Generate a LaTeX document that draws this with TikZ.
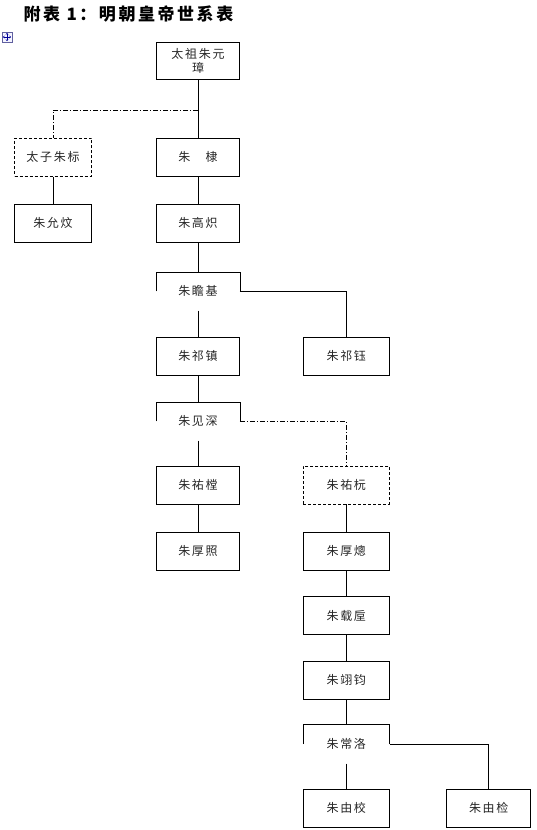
\documentclass[tikz,border=0pt]{standalone}
\usepackage{fontspec}
\newfontfamily\cjk[LetterSpace=14]{Noto Sans CJK SC}
\newfontfamily\cjktitle[LetterSpace=15]{Noto Sans CJK SC}
\usetikzlibrary{arrows.meta}

\begin{document}
\begin{tikzpicture}[x=1pt,y=-1pt,
  box/.style={draw,line width=.8pt,minimum width=83pt,minimum height=38pt,inner sep=0pt,
    align=center,font=\cjk\fontsize{12}{13.5}\selectfont,text=black!85},
  dbox/.style={box,dash pattern=on 3pt off 2pt},
  halfbox/.style={box,draw=none},
  link/.style={line width=.8pt},
  dlink/.style={link,dash pattern=on 5pt off 2pt on 1pt off 2pt}]
  \useasboundingbox (0,0) rectangle (536,830);
  %
  \node[anchor=west,font=\cjktitle\bfseries\fontsize{17}{20}\selectfont] (title) at (20,14) {附表 1：明朝皇帝世系表};
  \begin{scope}[shift={(7,37)}]
    \draw[blue!25!gray,fill=blue!4] (-5,-5) rectangle (5,5);
    \draw[blue!60!black,line width=.5pt,{Stealth[length=1.5pt,width=2.5pt]}-{Stealth[length=1.5pt,width=2.5pt]}] (-4,0) -- (4,0);
    \draw[blue!60!black,line width=.5pt,{Stealth[length=1.5pt,width=2.5pt]}-{Stealth[length=1.5pt,width=2.5pt]}] (0,-4) -- (0,4);
  \end{scope}
  %
  \node[box,minimum height=37pt] (yuanzhang) at (198,60.8) {太祖朱元\\璋};
  \node[dbox,minimum width=77pt] (biao) at (53,157.3) {太子朱标};
  \node[box] (di) at (198,157.3) {朱　棣};
  \node[box,minimum width=77pt] (yunwen) at (53,223.3) {朱允炆};
  \node[box] (gaochi) at (198,223.3) {朱高炽};
  \node[halfbox] (zhanji) at (198,291.3) {朱瞻基};
  \node[box] (qizhen) at (198,356.3) {朱祁镇};
  \node[box,minimum width=86pt] (qiyu) at (346.3,356.3) {朱祁钰};
  \node[halfbox] (jianshen) at (198,421.3) {朱见深};
  \node[box] (youtang) at (198,485) {朱祐樘};
  \node[dbox,minimum width=86pt] (youyuan) at (346.3,485) {朱祐杬};
  \node[box] (houzhao) at (198,551) {朱厚照};
  \node[box,minimum width=86pt] (houcong) at (346.3,551) {朱厚熜};
  \node[box,minimum width=86pt] (zaihou) at (346.3,615.7) {朱载垕};
  \node[box,minimum width=86pt] (yijun) at (346.3,680) {朱翊钧};
  \node[halfbox,minimum width=86pt] (changluo) at (346.3,744.2) {朱常洛};
  \node[box,minimum width=86pt] (youjiao) at (346.3,808) {朱由校};
  \node[box,minimum width=84pt] (youjian) at (488.7,808) {朱由检};
  %
  \foreach \n in {zhanji,jianshen,changluo}
           {\draw[link] (\n.west) |- (\n.north) -| (\n.east);}
  %
  \coordinate (fork) at (198,110.3);
  \draw[link] (yuanzhang.south) -- (di.north);
  \draw[dlink] (fork) -| (biao.north);
  \draw[link] (biao.south) -- (yunwen.north);
  \draw[link] (di.south) -- (gaochi.north);
  \draw[link] (gaochi.south) -- (zhanji.north);
  \draw[link] (zhanji.south) -- (qizhen.north);
  \draw[link] (zhanji.east) -| (qiyu.north);
  \draw[link] (qizhen.south) -- (jianshen.north);
  \draw[link] (jianshen.south) -- (youtang.north);
  \draw[dlink] (jianshen.east) -| (youyuan.north);
  \draw[link] (youtang.south) -- (houzhao.north);
  \draw[link] (youyuan.south) -- (houcong.north);
  \draw[link] (houcong.south) -- (zaihou.north);
  \draw[link] (zaihou.south) -- (yijun.north);
  \draw[link] (yijun.south) -- (changluo.north);
  \draw[link] (changluo.south) -- (youjiao.north);
  \draw[link] (changluo.east) -| (youjian.north);
\end{tikzpicture}
\end{document}
